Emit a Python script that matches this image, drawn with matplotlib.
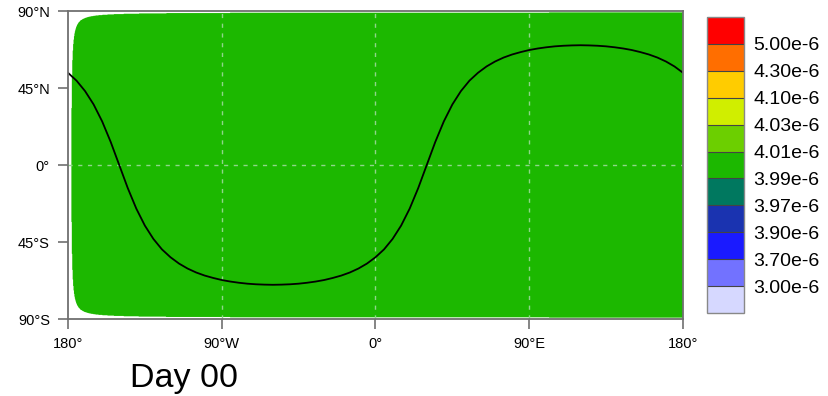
import numpy as np
import matplotlib
import matplotlib.pyplot as plt
from matplotlib.colors import ListedColormap, BoundaryNorm
matplotlib.use('Agg')

plt.rcParams['font.family'] = ['Liberation Sans', 'DejaVu Sans']

# colour levels of the field (labels on the colour bar)
levels = [3.00e-6, 3.70e-6, 3.90e-6, 3.97e-6, 3.99e-6, 4.01e-6, 4.03e-6, 4.10e-6, 4.30e-6, 5.00e-6]
level_labels = ['3.00e-6', '3.70e-6', '3.90e-6', '3.97e-6', '3.99e-6', '4.01e-6',
                '4.03e-6', '4.10e-6', '4.30e-6', '5.00e-6']
level_colors = ['#d6d8ff', '#7272ff', '#1a1aff', '#1a33b0', '#00785f', '#1cb800',
                '#6ccf00', '#d0ee00', '#ffcc00', '#ff6e00', '#ff0000']

# field value (uniform) and its missing-data corner near the date line
field_value = 4.00e-6
pole_gap = 89.3     # deg lat where data stops
corner_const = 28.0  # size of the empty corner near 180W

# black line
line_lon = np.arange(-180, 181, 5)
line_lat = [53.9, 49.3, 43.2, 35.4, 25.5, 13.5, 0.0, -13.5, -25.5, -35.4, -43.2, -49.3,
            -53.9, -57.6, -60.5, -62.8, -64.6, -66.0, -67.2, -68.1, -68.8, -69.35, -69.7, -69.9,
            -70.0, -69.9, -69.7, -69.35, -68.8, -68.1, -67.2, -66.0, -64.6, -62.8, -60.5, -57.6,
            -53.9, -49.3, -43.2, -35.4, -25.5, -13.5, 0.0, 13.5, 25.5, 35.4, 43.2, 49.3,
            53.9, 57.6, 60.5, 62.8, 64.6, 66.0, 67.2, 68.1, 68.8, 69.35, 69.7, 69.9,
            70.0, 69.9, 69.7, 69.35, 68.8, 68.1, 67.2, 66.0, 64.6, 62.8, 60.5, 57.6, 53.9]

xticks = [-180, -90, 0, 90, 180]
xlabels = ['180°', '90°W', '0°', '90°E', '180°']
yticks = [-90, -45, 0, 45, 90]
ylabels = ['90°S', '45°S', '0°', '45°N', '90°N']

# grid for the field
lon = np.linspace(-180, 180, 1441)
lat = np.linspace(-90, 90, 901)
LON, LAT = np.meshgrid(lon, lat)
field = np.full(LON.shape, field_value)
dist = pole_gap - np.abs(LAT)
missing = (dist <= 0) | ((LON + 178.5) * dist < corner_const)
field = np.ma.masked_where(missing, field)

bounds = [2.5e-6] + levels + [5.5e-6]
cmap = ListedColormap(level_colors)
norm = BoundaryNorm(bounds, cmap.N)

fig = plt.figure(figsize=(8.29, 3.96), dpi=100)
ax = fig.add_axes([0.0820, 0.1944, 0.7419, 0.7778])
cf = ax.contourf(LON, LAT, field, levels=bounds, cmap=cmap, norm=norm, antialiased=True)

grid_col = '#8fd68a'
ax.axhline(0, color=grid_col, lw=1, ls=(0, (3, 4)))
for x in [-90, 0, 90]:
    ax.axvline(x, color=grid_col, lw=1, ls=(0, (3, 4)))

ax.plot(line_lon, line_lat, color='black', lw=1.3)

ax.set_xlim(-180, 180)
ax.set_ylim(-90, 90)
ax.set_xticks(xticks)
ax.set_xticklabels(xlabels)
ax.set_yticks(yticks)
ax.set_yticklabels(ylabels)
ax.tick_params(direction='out', length=7, width=1.2, color='#707070',
               labelsize=10.5, pad=6)
for s in ax.spines.values():
    s.set_color('#707070')
    s.set_linewidth(1.3)

cax = fig.add_axes([0.8528, 0.2096, 0.0446, 0.7475])
cb = fig.colorbar(cf, cax=cax, spacing='uniform', drawedges=True)
cb.set_ticks(levels)
cb.set_ticklabels(level_labels)
cb.ax.minorticks_off()
cb.ax.tick_params(length=0, labelsize=14, pad=7)
cb.outline.set_edgecolor('#888888')
cb.outline.set_linewidth(1)
cb.dividers.set_color('#444444')
cb.dividers.set_linewidth(0.8)

fig.text(130 / 829, 9.3 / 396, 'Day 00', fontsize=24.5, va='baseline', ha='left')

fig.savefig('out.png', dpi=100)
